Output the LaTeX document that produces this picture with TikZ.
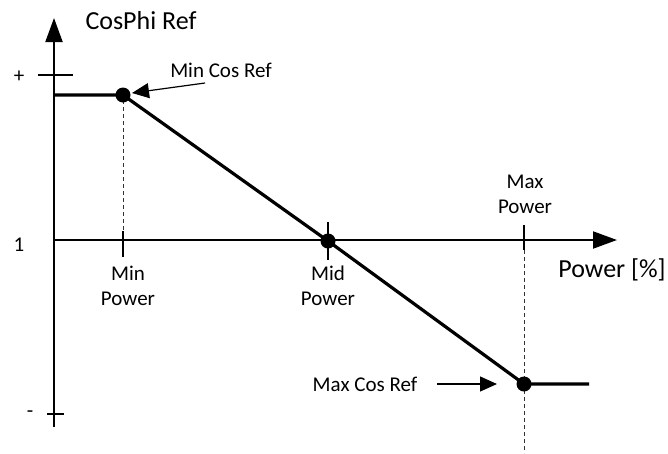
\documentclass[tikz,border=0pt]{standalone}
\usepackage{fontspec}
\setmainfont{Carlito}
\usetikzlibrary{arrows.meta}
\begin{document}
\begin{tikzpicture}[x=1pt,y=-1pt,
  axis/.style={line width=2pt},
  curve/.style={line width=3.2pt},
  guide/.style={line width=0.8pt,dash pattern=on 4pt off 3pt,black!80},
  tickline/.style={line width=2pt},
  dotmark/.style={circle,fill=black,inner sep=0pt,minimum size=15pt},
  bigtxt/.style={font=\fontsize{26}{29}\selectfont},
  smalltxt/.style={font=\fontsize{21}{25}\selectfont,align=center},
  lbl/.style={font=\fontsize{21}{25}\selectfont},
  bigarrow/.style={-{Triangle[length=24pt,width=17pt]}},
  callout/.style={line width=1.2pt,-{Triangle[length=17pt,width=15pt]}}]
\useasboundingbox (0,0) rectangle (668,453);
% coordinates
\coordinate (O) at (54,240);
\coordinate (ybot) at (54,427);
\coordinate (ytop) at (54,18);
\coordinate (xend) at (617,240);
\coordinate (y0) at (54,95);
\coordinate (maxend) at (589,384);
% axes
\draw[axis,bigarrow] (ybot) -- (ytop);
\draw[axis,bigarrow] (O) -- (xend);
% y ticks
\coordinate (pl) at (38,75); \coordinate (pr) at (73,75);
\draw[tickline] (pl) -- (pr);
\coordinate (ml) at (47,414); \coordinate (mr) at (64,414);
\draw[tickline] (ml) -- (mr);
\node[lbl] (plus) at (19,77) {+};
\node[lbl] (one) at (19,245) {1};
\node[lbl] (minus) at (30,414) {-};
% x ticks
\coordinate (t1a) at (123,231); \coordinate (t1b) at (123,257);
\draw[tickline] (t1a) -- (t1b);
\coordinate (t2a) at (328,222); \coordinate (t2b) at (328,260);
\draw[tickline] (t2a) -- (t2b);
\coordinate (t3a) at (524,225); \coordinate (t3b) at (524,250);
\draw[tickline] (t3a) -- (t3b);
% guide lines
\coordinate (g1) at (123,100);
\draw[guide] (g1) -- (t1a);
\coordinate (g3) at (524,453);
\draw[guide] (t3b) -- (g3);
% curve
\node[dotmark] (A) at (123,95) {};
\node[dotmark] (B) at (328,241) {};
\node[dotmark] (C) at (524,384) {};
\draw[curve] (y0) -- (A.center) -- (B.center) -- (C.center) -- (maxend);
% labels
\node[bigtxt] (ylab) at (141,21) {CosPhi Ref};
\node[bigtxt] (xlab) at (612,270) {Power [\%]};
\node[smalltxt] (minp) at (128,286) {Min\\Power};
\node[smalltxt] (midp) at (328,286) {Mid\\Power};
\node[smalltxt] (maxp) at (525,194) {Max\\Power};
\node[lbl] (mincos) at (221,70) {Min Cos Ref};
\node[lbl] (maxcos) at (365,384) {Max Cos Ref};
% callouts
\coordinate (c1s) at (205,83);
\coordinate (c1e) at (132,93);
\draw[callout] (c1s) -- (c1e);
\coordinate (c2s) at (437,384);
\coordinate (c2e) at (497,384);
\draw[callout] (c2s) -- (c2e);
\end{tikzpicture}
\end{document}
